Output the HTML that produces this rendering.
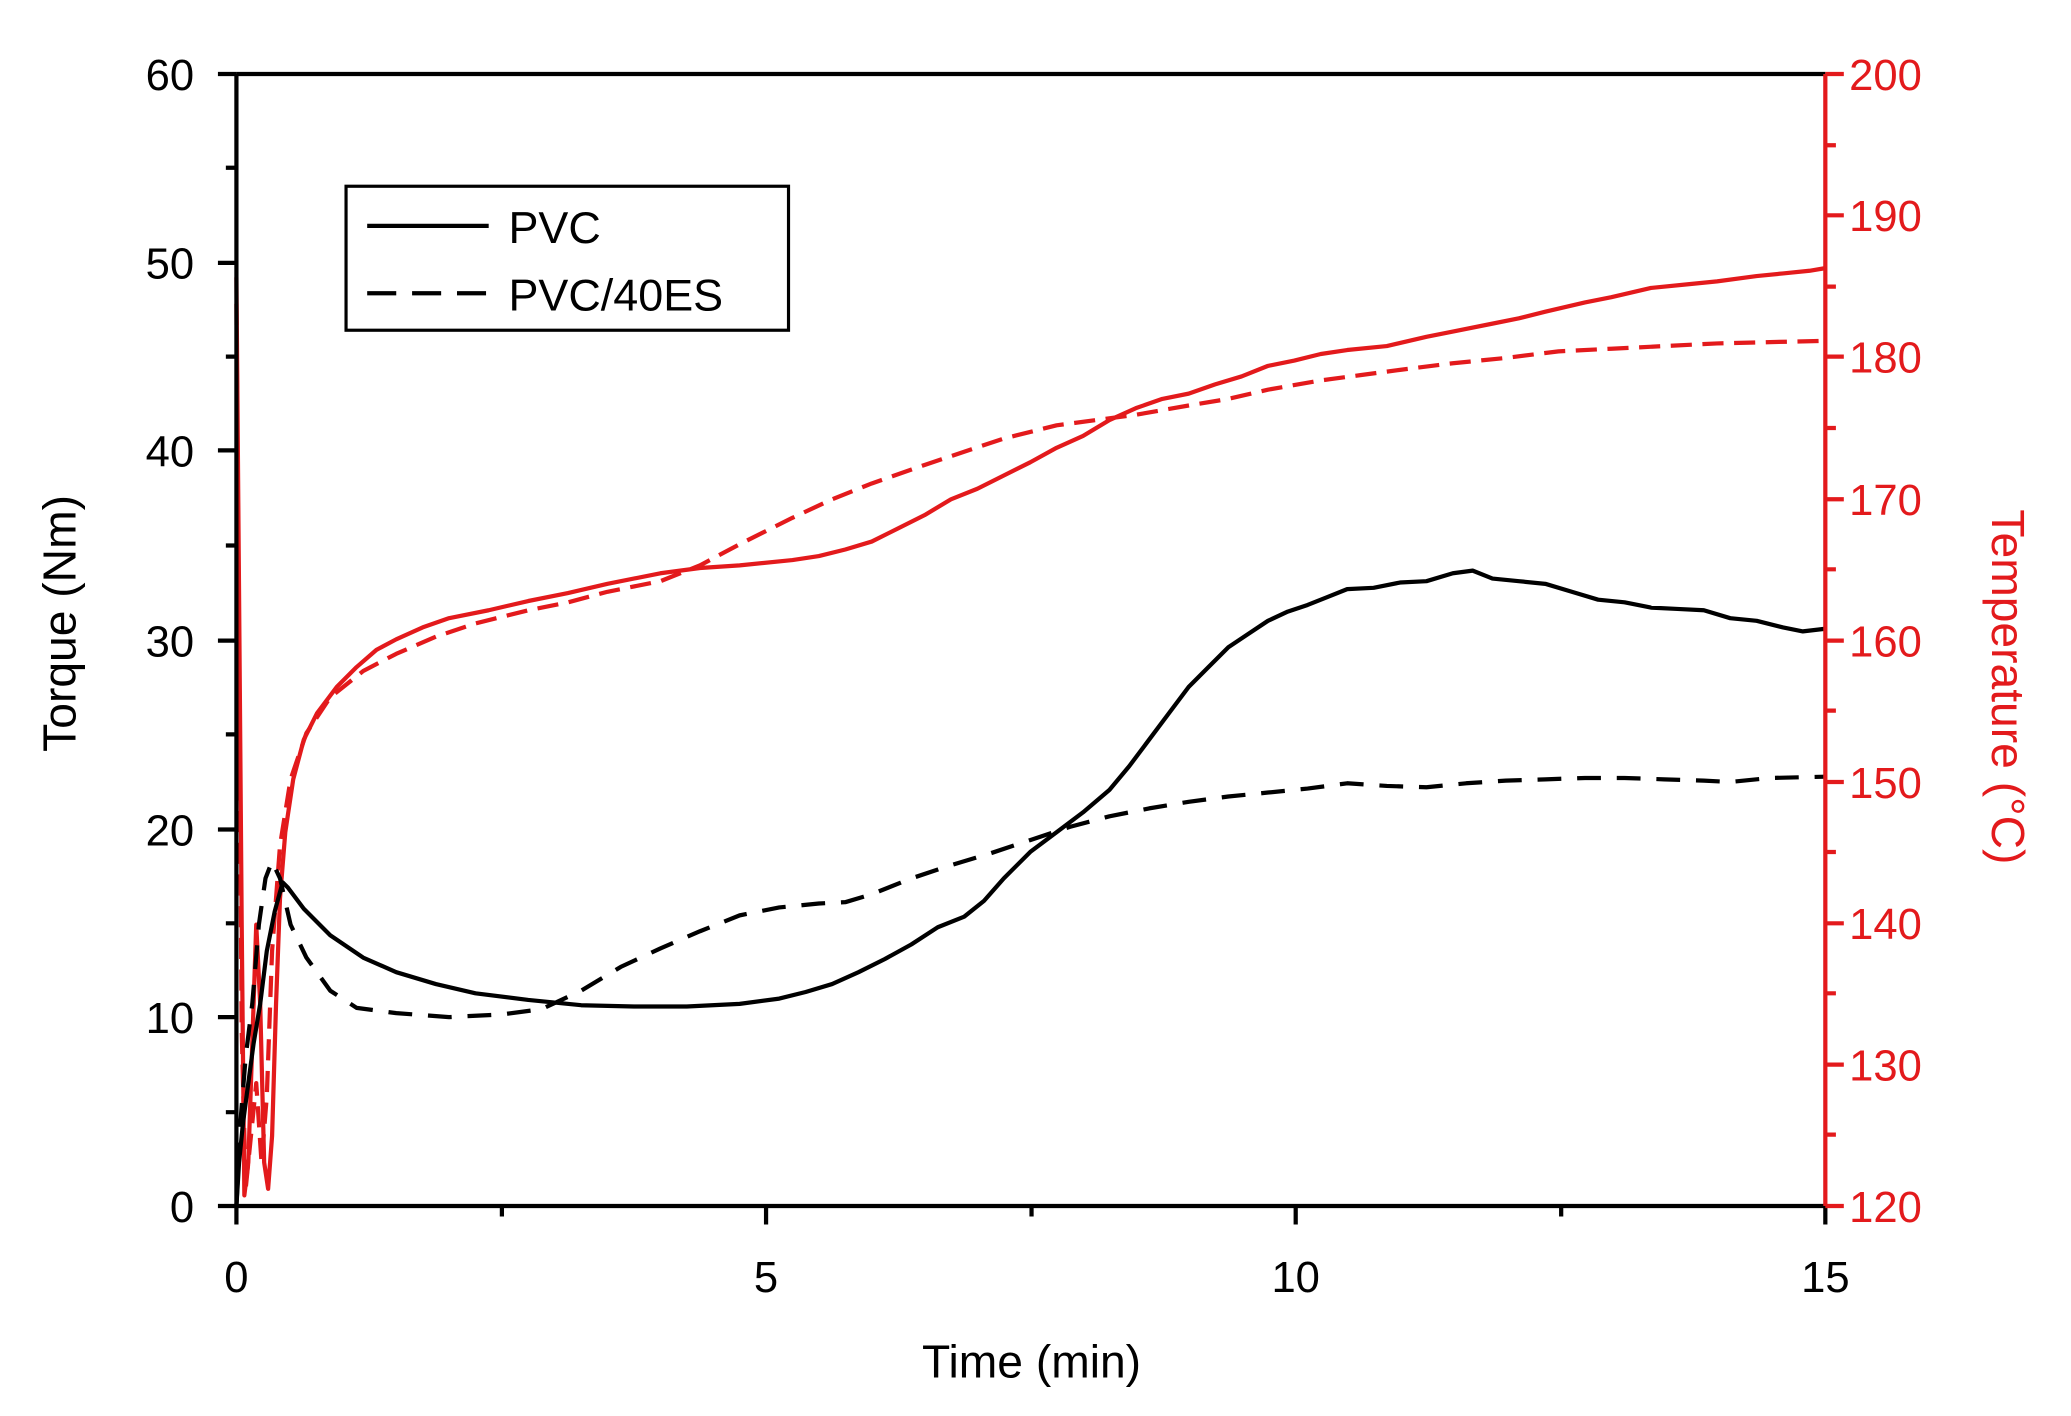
<!DOCTYPE html>
<html><head><meta charset="utf-8"><style>
html,body{margin:0;padding:0;background:#fff;}
svg{display:block;}
text{font-family:"Liberation Sans",Arial,sans-serif;}
</style></head><body>
<svg width="2071" height="1416" viewBox="0 0 1568 1072" preserveAspectRatio="none" xmlns="http://www.w3.org/2000/svg">
<rect width="1568" height="1072" fill="#fff"/>
<g fill="none" stroke-linejoin="round" stroke-linecap="butt">
<polyline stroke="#e31a1c" stroke-width="3.2" points="179,210 181,450 183,700 185,905 188,880 191,790 194,700 197,760 200,880 203,900 206,860 209,760 212,680 216,630 222,590 230,560 240,540 255,520 270,505 285,492 300,484 320,475 340,468 370,462 400,455 430,449 460,442 500,434 530,430 560,428 600,424 620,421 640,416 660,410 680,400 700,390 720,378 740,370 760,360 780,350 800,339 820,330 840,318 860,309 880,302 900,298 920,291 940,285 960,277 980,273 1000,268 1020,265 1050,262 1080,255 1100,251 1130,245 1150,241 1170,236 1200,229 1220,225 1250,218 1280,215 1300,213 1330,209 1350,207 1370,205 1382,203"/>
<polyline stroke="#e31a1c" stroke-width="3.2" stroke-dasharray="16,8" points="179,230 181,500 183,780 186,900 190,860 194,820 198,880 202,830 206,720 212,640 220,590 232,555 250,528 275,508 300,495 330,482 360,472 400,462 430,456 460,448 500,440 530,428 560,412 600,392 630,378 660,366 700,352 730,342 760,332 800,322 830,318 860,314 900,307 930,302 960,295 1000,288 1030,284 1060,280 1100,275 1140,271 1180,266 1220,264 1260,262 1300,260 1340,259 1382,258"/>
<polyline stroke="#000" stroke-width="3.2" points="179,913 181,880 184,850 188,820 192,790 197,760 202,720 208,690 214,668 218,672 230,688 250,708 275,725 300,736 330,745 360,752 400,757 440,761 480,762 520,762 560,760 590,756 610,751 630,745 650,736 670,726 690,715 710,702 730,694 745,682 760,665 780,645 800,630 820,615 840,598 855,580 870,560 885,540 900,520 915,505 930,490 945,480 960,470 975,463 990,458 1005,452 1020,446 1040,445 1060,441 1080,440 1100,434 1115,432 1130,438 1150,440 1170,442 1190,448 1210,454 1230,456 1250,460 1270,461 1290,462 1310,468 1330,470 1350,475 1365,478 1382,476"/>
<polyline stroke="#000" stroke-width="3.2" stroke-dasharray="18,12" points="179,913 182,850 186,800 191,760 196,700 201,665 206,652 212,665 220,700 232,725 250,750 270,763 300,767 340,770 380,768 410,764 440,750 470,732 500,718 530,705 560,693 590,687 620,684 640,683 660,677 690,665 720,655 750,646 780,636 810,626 840,618 870,612 900,607 930,603 960,600 990,597 1020,593 1050,595 1080,596 1110,593 1140,591 1170,590 1200,589 1230,589 1260,590 1290,591 1310,592 1340,589 1382,588"/>
</g>
<g stroke="#000" stroke-width="3.2" fill="none">
<line x1="179" y1="56" x2="1382" y2="56"/>
<line x1="179" y1="56" x2="179" y2="913"/>
<line x1="179" y1="913" x2="1382" y2="913"/>
<path d="M165,56H179M165,199H179M165,341H179M165,485H179M165,628H179M165,770H179M165,913H179"/>
<path d="M171,127H179M171,270H179M171,413H179M171,556H179M171,699H179M171,842H179"/>
<path d="M179,913V927M580,913V927M981,913V927M1382,913V927"/>
<path d="M380,913V921M781,913V921M1182,913V921"/>
</g>
<g stroke="#e31a1c" stroke-width="3.2" fill="none">
<line x1="1382" y1="56" x2="1382" y2="913"/>
<path d="M1382,56H1396M1382,163H1396M1382,270H1396M1382,378H1396M1382,485H1396M1382,592H1396M1382,699H1396M1382,806H1396M1382,913H1396"/>
<path d="M1382,110H1390M1382,217H1390M1382,324H1390M1382,431H1390M1382,538H1390M1382,645H1390M1382,752H1390M1382,859H1390"/>
</g>
<g font-size="33" fill="#000" text-anchor="end">
<text x="147" y="68">60</text><text x="147" y="211">50</text><text x="147" y="353">40</text>
<text x="147" y="497">30</text><text x="147" y="640">20</text><text x="147" y="782">10</text><text x="147" y="925">0</text>
</g>
<g font-size="33" fill="#000" text-anchor="middle">
<text x="179" y="978">0</text><text x="580" y="978">5</text><text x="981" y="978">10</text><text x="1382" y="978">15</text>
<text x="781" y="1043" font-size="35">Time (min)</text>
</g>
<g font-size="33" fill="#e31a1c">
<text x="1400" y="68">200</text><text x="1400" y="175">190</text><text x="1400" y="282">180</text>
<text x="1400" y="390">170</text><text x="1400" y="497">160</text><text x="1400" y="604">150</text>
<text x="1400" y="711">140</text><text x="1400" y="818">130</text><text x="1400" y="925">120</text>
</g>
<text transform="translate(57,472) rotate(-90)" text-anchor="middle" font-size="35" fill="#000">Torque (Nm)</text>
<text transform="translate(1508,520) rotate(90)" text-anchor="middle" font-size="35" fill="#e31a1c">Temperature (°C)</text>
<rect x="262" y="141" width="335" height="109" fill="#fff" stroke="#000" stroke-width="2.4"/>
<line x1="278" y1="171" x2="370" y2="171" stroke="#000" stroke-width="3.2"/>
<line x1="278" y1="222" x2="370" y2="222" stroke="#000" stroke-width="3.2" stroke-dasharray="22,12"/>
<text x="385" y="184" font-size="34" fill="#000">PVC</text>
<text x="385" y="235" font-size="34" fill="#000">PVC/40ES</text>
</svg>
</body></html>
